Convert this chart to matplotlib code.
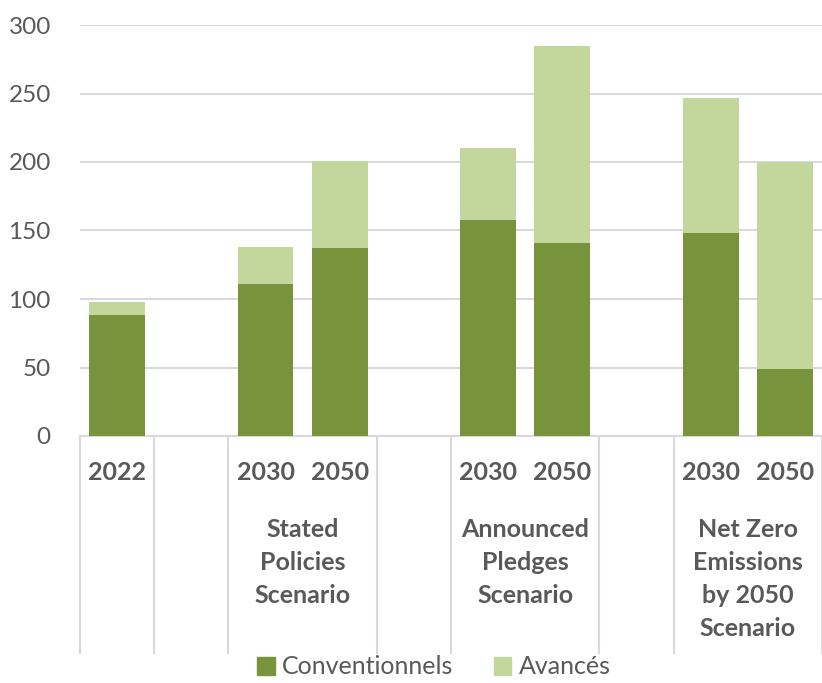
import matplotlib
matplotlib.use("Agg")
import matplotlib.pyplot as plt
from matplotlib.patches import Patch
from matplotlib.transforms import blended_transform_factory

# Data
years = ['2022', '2030', '2050', '2030', '2050', '2030', '2050']
groups = ['', 'Stated\nPolicies\nScenario', 'Announced\nPledges\nScenario',
          'Net Zero\nEmissions\nby 2050\nScenario']
group_sizes = [1, 2, 2, 2]
conventionnels = [88, 111, 137, 158, 141, 148, 49]
avances = [10, 27, 64, 52, 144, 99, 151]
y_ticks = [0, 50, 100, 150, 200, 250, 300]

dark_green = '#77933c'
light_green = '#c3d69b'
text_color = '#595959'
grid_color = '#d9d9d9'

plt.rcParams['font.family'] = ['Lato', 'DejaVu Sans']

fig = plt.figure(figsize=(8.22, 6.83), dpi=100)
ax = fig.add_axes([80 / 822, 1 - 436 / 683, 742 / 822, 411 / 683])

# slot layout: each group followed by an empty slot
xs, boundaries, centers = [], [0], []
pos = 0
for size in group_sizes:
    start = pos
    for _ in range(size):
        xs.append(pos + 0.5)
        pos += 1
    centers.append((start + pos) / 2)
    boundaries.append(pos)
    pos += 1
    boundaries.append(pos)
boundaries = boundaries[:-1]

bw = 0.75
ax.bar(xs, conventionnels, width=bw, color=dark_green, zorder=3)
ax.bar(xs, avances, width=bw, bottom=conventionnels, color=light_green, zorder=3)

ax.set_xlim(0, 10)
ax.set_ylim(0, 300)
ax.set_yticks(y_ticks)
ax.set_xticks([])
ax.grid(axis='y', color=grid_color, linewidth=1.5, zorder=0)
for s in ['top', 'right', 'left']:
    ax.spines[s].set_visible(False)
ax.spines['bottom'].set_color(grid_color)
ax.spines['bottom'].set_linewidth(1.5)
ax.tick_params(axis='y', length=0, pad=21, labelsize=17.5, labelcolor=text_color)

# multi-level category axis
trans = blended_transform_factory(ax.transData, ax.transAxes)
for x, y in zip(xs, years):
    ax.text(x, -0.09, y, transform=trans, ha='center', va='center',
            fontsize=18, fontweight='bold', color=text_color)
for c, g in zip(centers, groups):
    if g:
        ax.text(c, -0.2, g, transform=trans, ha='center', va='top',
                fontsize=18, fontweight='bold', color=text_color, linespacing=1.52)
for b in boundaries:
    ax.plot([b, b], [0, -0.527], transform=trans, color=grid_color,
            linewidth=1.5, clip_on=False)

handles = [Patch(color=dark_green, label='Conventionnels'),
           Patch(color=light_green, label='Avancés')]
fig.legend(handles=handles, loc='center', bbox_to_anchor=(0.528, 1 - 667 / 683),
           ncol=2, frameon=False, fontsize=18, labelcolor=text_color,
           handlelength=0.7, handleheight=0.7, handletextpad=0.3, columnspacing=1.6)

fig.savefig('out.png', dpi=100, facecolor='white')
